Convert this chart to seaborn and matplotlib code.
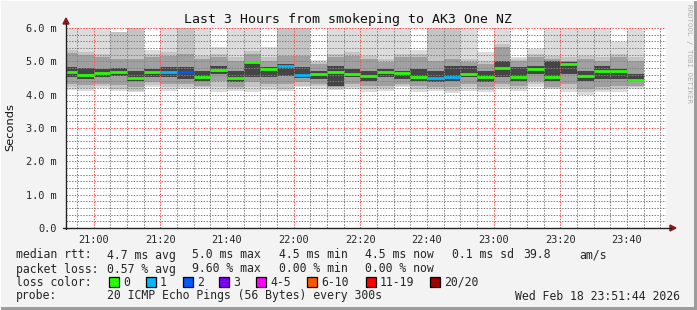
import numpy as np
import pandas as pd
import matplotlib
matplotlib.use("Agg")
import matplotlib.pyplot as plt
import matplotlib.dates as mdates
from matplotlib.patches import Rectangle, Polygon
from matplotlib.ticker import MultipleLocator
import seaborn as sns

# ---------------- data ----------------
slot_start = pd.date_range("2026-02-18 20:50", periods=35, freq="5min")
median_ms = [4.69, 4.60, 4.66, 4.69, 4.51, 4.69, 4.69, 4.67, 4.54, 4.74, 4.50, 4.98,
             4.78, 4.87, 4.60, 4.62, 4.69, 4.62, 4.56, 4.69, 4.66, 4.54, 4.51, 4.54,
             4.62, 4.54, 4.81, 4.54, 4.78, 4.54, 4.91, 4.57, 4.70, 4.72, 4.44]
loss_pings = [0, 0, 0, 0, 0, 0, 1, 2, 0, 0, 0, 0, 0, 1, 1, 0, 0, 0, 0, 0, 0, 0, 1, 1,
              0, 0, 0, 0, 0, 0, 0, 0, 0, 0, 0]
smoke_top = [6.0, 6.0, 6.0, 5.87, 6.0, 5.34, 6.0, 6.0, 6.0, 5.42, 6.0, 6.0, 5.42, 6.0,
             6.0, 5.04, 6.0, 6.0, 6.0, 6.0, 6.0, 5.34, 6.0, 6.0, 6.0, 5.27, 6.0, 5.12,
             5.38, 6.0, 6.0, 6.0, 6.0, 5.57, 6.0]
smoke_top2 = [5.34, 5.29, 5.22, 5.87, 6.0, 5.22, 5.27, 6.0, 5.17, 5.22, 5.12, 5.32, 5.12,
              6.0, 6.0, 4.98, 5.22, 5.27, 5.17, 5.07, 5.22, 5.22, 6.0, 6.0, 5.07, 5.02,
              5.52, 5.07, 5.22, 5.17, 5.12, 5.17, 5.12, 5.22, 5.12]
smoke_hi = [5.24, 5.19, 5.12, 5.07, 5.07, 5.12, 5.17, 5.22, 5.07, 5.12, 5.02, 5.22, 5.02,
            5.17, 5.17, 4.92, 5.12, 5.17, 5.07, 4.97, 5.12, 5.12, 5.02, 5.07, 4.97, 4.92,
            5.42, 5.02, 5.12, 5.07, 5.02, 5.07, 5.02, 5.12, 5.02]
core_hi = [4.82, 4.79, 4.77, 4.80, 4.72, 4.77, 4.82, 4.82, 4.72, 4.87, 4.72, 5.02, 4.84,
           4.92, 4.82, 4.72, 4.87, 4.77, 4.72, 4.77, 4.72, 4.77, 4.72, 4.87, 4.87, 4.72,
           5.02, 4.82, 4.87, 5.02, 4.97, 4.72, 4.87, 4.77, 4.62]
core_lo = [4.52, 4.47, 4.52, 4.55, 4.42, 4.52, 4.52, 4.47, 4.42, 4.62, 4.37, 4.52, 4.52,
           4.57, 4.50, 4.47, 4.27, 4.52, 4.42, 4.52, 4.47, 4.42, 4.37, 4.42, 4.52, 4.37,
           4.52, 4.42, 4.62, 4.42, 4.62, 4.42, 4.47, 4.47, 4.37]
smoke_lo = [4.32, 4.29, 4.32, 4.30, 4.22, 4.37, 4.32, 4.32, 4.27, 4.42, 4.22, 4.37, 4.32,
            4.32, 4.37, 4.32, 4.22, 4.32, 4.27, 4.27, 4.32, 4.27, 4.22, 4.22, 4.32, 4.22,
            4.32, 4.27, 4.42, 4.22, 4.32, 4.17, 4.22, 4.27, 4.27]
smoke_bot2 = [4.24, 4.20, 4.26, 4.16, 4.12, 4.30, 4.22, 4.22, 4.22, 4.24, 4.17, 4.22, 4.24,
              4.17, 4.27, 4.25, 4.19, 4.24, 4.17, 4.20, 4.27, 4.17, 4.17, 4.10, 4.22, 4.15,
              4.24, 4.20, 4.32, 4.20, 4.20, 4.08, 4.15, 4.17, 4.22]
smoke_bot = [4.15, 4.12, 4.20, 4.12, 4.07, 4.22, 4.12, 4.17, 4.17, 4.07, 4.12, 4.07, 4.15,
             4.12, 4.22, 4.17, 4.15, 4.17, 4.07, 4.12, 4.22, 4.07, 4.12, 4.04, 4.12, 4.07,
             4.17, 4.12, 4.22, 4.17, 4.07, 4.00, 4.07, 4.07, 4.17]

y_ticks = [0, 1, 2, 3, 4, 5, 6]
y_tick_labels = ["0.0", "1.0 m", "2.0 m", "3.0 m", "4.0 m", "5.0 m", "6.0 m"]
loss_labels = ["0", "1", "2", "3", "4-5", "6-10", "11-19", "20/20"]
loss_colors = ["#26ff00", "#00b8ff", "#0059ff", "#7e00ff", "#ff00ff", "#ff5500",
               "#ff0000", "#a00000"]

title = "Last 3 Hours from smokeping to AK3 One NZ"
rtt_items = ["median rtt:", "4.7 ms avg", "5.0 ms max", "4.5 ms min", "4.5 ms now",
             "0.1 ms sd", "39.8", "am/s"]
loss_items = ["packet loss:", "0.57 % avg", "9.60 % max", "0.00 % min", "0.00 % now"]
probe_text = "20 ICMP Echo Pings (56 Bytes) every 300s"
stamp_text = "Wed Feb 18 23:51:44 2026"

# ---------------- figure ----------------
W, H = 697, 310
sns.set_style("white")
plt.rcParams["font.family"] = ["DejaVu Sans Mono"]
fig = plt.figure(figsize=(W / 100, H / 100), dpi=100, facecolor="#f3f3f3")

def fx(px):
    return px / W

def fy(py):
    return 1 - py / H

ax_l, ax_r, ax_t, ax_b = 66, 666, 28, 228
ax = fig.add_axes([fx(ax_l), fy(ax_b), fx(ax_r - ax_l), (ax_b - ax_t) / H])
ax.set_facecolor("white")

t0 = pd.Timestamp("2026-02-18 20:51:44")
t1 = pd.Timestamp("2026-02-18 23:51:44")
ax.set_xlim(mdates.date2num(t0), mdates.date2num(t1))
ax.set_ylim(0, 6.0)

xs = mdates.date2num(slot_start)
width = 5.0 / (24 * 60)

bands = [(smoke_top, smoke_bot, "#dcdcdc"),
         (smoke_top2, smoke_bot2, "#c4c4c4"),
         (smoke_hi, smoke_lo, "#a0a0a0"),
         (core_hi, core_lo, "#454545")]
for hi, lo, col in bands:
    hi = np.array(hi)
    lo = np.array(lo)
    ax.bar(xs, hi - lo, bottom=lo, width=width, align="edge", color=col,
           linewidth=0, zorder=1)

df = pd.DataFrame({"t": xs + width / 2, "median": median_ms,
                   "loss": [loss_labels[i] for i in loss_pings]})
pal = {lab: c for lab, c in zip(loss_labels, loss_colors)}
sns.scatterplot(data=df, x="t", y="median", hue="loss", palette=pal, marker="_",
                s=144, linewidth=2.0, legend=False, ax=ax, zorder=4)

# grid (translucent dotted, drawn over the smoke like rrdtool)
ax.xaxis.set_major_locator(mdates.MinuteLocator(byminute=[0, 20, 40]))
ax.xaxis.set_minor_locator(mdates.MinuteLocator(byminute=range(0, 60, 5)))
ax.xaxis.set_major_formatter(mdates.DateFormatter("%H:%M"))
ax.yaxis.set_major_locator(MultipleLocator(1.0))
ax.yaxis.set_minor_locator(MultipleLocator(0.2))
ax.grid(which="minor", color=(0.5, 0.5, 0.5, 0.32), linestyle=(0, (1.4, 1.4)),
        linewidth=0.72, zorder=2)
ax.grid(which="major", color=(1.0, 0.3, 0.3, 0.24), linestyle=(0, (1.4, 1.4)),
        linewidth=0.72, zorder=3)
ax.set_axisbelow(False)

ax.set_yticks(y_ticks)
ax.set_yticklabels(y_tick_labels, fontsize=7.4)
ax.tick_params(axis="y", which="major", length=3, width=0.8, color="#333333", pad=4)
ax.tick_params(axis="x", which="major", length=2, width=0.8, color="#333333",
               labelsize=7.4, pad=3)
ax.tick_params(which="minor", length=0)
for s in ax.spines.values():
    s.set_visible(False)
ax.set_xlabel("")
ax.set_ylabel("")

# axes lines with arrows
fig.add_artist(plt.Line2D([fx(ax_l), fx(ax_l)], [fy(ax_b + 1), fy(ax_t - 5)],
                          color="#222222", lw=1.0))
fig.add_artist(plt.Line2D([fx(ax_l - 3), fx(ax_r + 5)], [fy(ax_b), fy(ax_b)],
                          color="#222222", lw=1.0))
fig.add_artist(Polygon([[fx(ax_l - 3), fy(ax_t - 4)], [fx(ax_l + 3), fy(ax_t - 4)],
                        [fx(ax_l), fy(ax_t - 10)]], closed=True, color="#8b1a1a"))
fig.add_artist(Polygon([[fx(ax_r + 4), fy(ax_b - 3)], [fx(ax_r + 4), fy(ax_b + 3)],
                        [fx(ax_r + 10), fy(ax_b)]], closed=True, color="#8b1a1a"))

# texts
fig.text(fx(348), fy(19), title, ha="center", va="center", fontsize=9.5, color="#111111")
fig.text(fx(10), fy(127), "Seconds", rotation=90, ha="center", va="center",
         fontsize=8.2, family="DejaVu Sans", color="#111111")
fig.text(fx(689), fy(4), "RRDTOOL / TOBI OETIKER", rotation=270, ha="center", va="top",
         fontsize=5.4, color="#b0b0b0")

lg = 8.3
row_y = [255, 269, 282, 296]
rtt_x = [16, 107, 192, 279, 365, 452, 523, 579]
for txt, x in zip(rtt_items, rtt_x):
    fig.text(fx(x), fy(row_y[0]), txt, ha="left", va="center", fontsize=lg)
for txt, x in zip(loss_items, rtt_x):
    fig.text(fx(x), fy(row_y[1]), txt, ha="left", va="center", fontsize=lg)
fig.text(fx(16), fy(row_y[2]), "loss color:", ha="left", va="center", fontsize=lg)
sq_x = [109, 146, 183, 219, 256, 307, 366, 430]
for lab, col, x in zip(loss_labels, loss_colors, sq_x):
    fig.add_artist(Rectangle((fx(x), fy(row_y[2] + 5)), fx(10), 10 / H,
                             facecolor=col, edgecolor="black", linewidth=0.9))
    fig.text(fx(x + 14), fy(row_y[2]), lab, ha="left", va="center", fontsize=lg)
fig.text(fx(16), fy(row_y[3]), "probe:", ha="left", va="center", fontsize=lg)
fig.text(fx(107), fy(row_y[3]), probe_text, ha="left", va="center", fontsize=lg)
fig.text(fx(680), fy(row_y[3]), stamp_text, ha="right", va="center", fontsize=lg)

# frame
fig.add_artist(Rectangle((fx(W - 3), 0), fx(3), 1, facecolor="#9c9c9c",
                         edgecolor="none"))
fig.add_artist(Rectangle((0, 0), 1, 3 / H, facecolor="#9c9c9c", edgecolor="none"))
fig.add_artist(Rectangle((0, 0), fx(1), 1, facecolor="#fdfdfd", edgecolor="none"))
fig.add_artist(Rectangle((0, 1 - 1 / H), 1, 1 / H, facecolor="#fdfdfd", edgecolor="none"))

fig.savefig("out.png", dpi=100, facecolor=fig.get_facecolor())
